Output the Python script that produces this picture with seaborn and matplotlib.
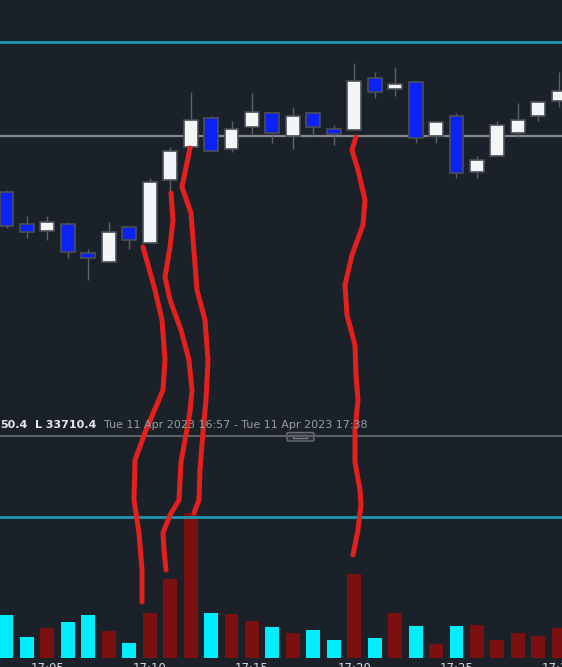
import matplotlib
matplotlib.use("Agg")
import matplotlib.pyplot as plt
import seaborn as sns
import pandas as pd
from matplotlib.patches import FancyBboxPatch, Rectangle

# one-minute candles, 17:03 .. 17:30
times = ["17:03", "17:04", "17:05", "17:06", "17:07", "17:08", "17:09", "17:10",
         "17:11", "17:12", "17:13", "17:14", "17:15", "17:16", "17:17", "17:18",
         "17:19", "17:20", "17:21", "17:22", "17:23", "17:24", "17:25", "17:26",
         "17:27", "17:28", "17:29", "17:30"]
opens = [33774, 33758, 33754.5, 33758, 33743.5, 33739, 33756.5, 33748.5,
         33780, 33796.5, 33811, 33795.5, 33806.5, 33813.5, 33802, 33813.5,
         33805.5, 33805, 33831, 33825.5, 33829, 33802, 33812, 33784,
         33792, 33803.5, 33812, 33819.5]
highs = [33775, 33762, 33762, 33759, 33745.5, 33759, 33756.5, 33781,
         33796.5, 33824, 33812, 33809.5, 33823.5, 33813.5, 33816.5, 33813.5,
         33807.5, 33838.5, 33834, 33836.5, 33829, 33809, 33813.5, 33792,
         33809.5, 33818.5, 33819, 33834]
lows = [33756, 33751, 33750, 33741, 33730, 33739, 33745.5, 33748.5,
        33774.5, 33796.5, 33794.5, 33794, 33803, 33798.5, 33795.5, 33802,
        33797.5, 33805, 33821, 33822, 33798.5, 33798.5, 33781, 33781,
        33792, 33801.5, 33809.5, 33816.5]
closes = [33757, 33754, 33759, 33744, 33741, 33754, 33750, 33779,
          33794.5, 33810, 33794.5, 33805.5, 33814, 33803.5, 33812, 33806.5,
          33803, 33829.5, 33824, 33828, 33801, 33809, 33783.5, 33790,
          33807.5, 33810, 33819, 33824.5]
volumes = [425, 202, 298, 352, 422, 268, 145, 448, 785, 1448, 445, 435, 365, 302,
           245, 275, 172, 838, 198, 442, 312, 138, 312, 330, 172, 245, 215, 295]
tick_labels = ["17:05", "17:10", "17:15", "17:20", "17:25", "17:30"]

price_level_top = 33849
price_level_mid = 33802
volume_level = 1405

header_high = "50.4"
header_low = "L 33710.4"
header_range = "Tue 11 Apr 2023 16:57 - Tue 11 Apr 2023 17:38"

# hand-drawn red marks on the screenshot (pixel coords)
scribbles = [
    [(143, 247), (155, 290), (162, 320), (165, 360), (163, 390), (158, 402),
     (146, 430), (135, 460), (134, 500), (139, 533), (142, 570), (142, 602)],
    [(171, 193), (173, 220), (170, 247), (165, 277), (170, 300), (181, 330),
     (189, 360), (192, 390), (190, 412), (185, 440), (181, 462), (179, 500),
     (170, 515), (163, 533), (164, 550), (166, 570)],
    [(190, 148), (182, 187), (191, 213), (197, 290), (205, 320), (208, 360),
     (206, 400), (203, 432), (200, 470), (199, 500), (194, 513)],
    [(356, 137), (352, 150), (358, 170), (365, 200), (363, 225), (352, 255),
     (345, 285), (347, 315), (355, 345), (356, 375), (358, 400), (355, 430),
     (355, 462), (360, 490), (361, 505), (358, 530), (353, 555)],
]

BG = "#1b2129"
BLUE = "#0a22f5"
WHITE = "#f4f5f7"
VOL_UP = "#7a1010"
VOL_DOWN = "#00eefc"
CYAN_LINE = "#1f97b0"

sns.set_theme(style="dark", rc={"axes.facecolor": BG, "figure.facecolor": BG,
                                "axes.grid": False})
plt.rcParams["font.family"] = ["DejaVu Sans"]

fig = plt.figure(figsize=(5.62, 6.67), dpi=100)
ax = fig.add_axes([0, 232 / 667, 1, 435 / 667])
axv = fig.add_axes([0, 9.5 / 667, 1, 222.5 / 667])

n = len(times)
xs = list(range(n))
up = [c >= o for o, c in zip(opens, closes)]

# price panel
ax.vlines(xs, lows, highs, color="#5c6169", lw=1, zorder=2)
bottoms = [min(o, c) for o, c in zip(opens, closes)]
heights = [max(abs(c - o), 2.0) for o, c in zip(opens, closes)]
ax.bar(xs, heights, bottom=bottoms, width=0.68,
       color=[WHITE if u else BLUE for u in up],
       edgecolor="#4a4f57", lw=1.2, zorder=3)
ax.axhline(price_level_top, color=CYAN_LINE, lw=2, zorder=1)
ax.axhline(price_level_mid, color="#85888d", lw=1.6, zorder=1)
ax.set_xlim(-0.32, 27.16)
ax.set_ylim(33652.5, 33870)
ax.axis("off")

# volume panel
df = pd.DataFrame({"t": times, "volume": volumes,
                   "side": ["up" if u else "down" for u in up]})
sns.barplot(data=df, x="t", y="volume", hue="side", order=times,
            palette={"up": VOL_UP, "down": VOL_DOWN}, dodge=False, width=0.68,
            linewidth=0, saturation=1, legend=False, ax=axv, zorder=2)
axv.axhline(volume_level, color=CYAN_LINE, lw=2, zorder=3)
axv.set_xlim(-0.32, 27.16)
axv.set_ylim(0, 2225)
axv.set_xticks([times.index(t) for t in tick_labels], tick_labels)
axv.set_yticks([])
axv.tick_params(axis="x", length=0, pad=3.5, labelsize=8.5, colors="#d6d8db")
axv.set_xlabel("")
axv.set_ylabel("")
for s in axv.spines.values():
    s.set_visible(False)

# overlay: separator, handle, header text, red marks
ov = fig.add_axes([0, 0, 1, 1])
ov.set_xlim(0, 562)
ov.set_ylim(667, 0)
ov.axis("off")
ov.plot([0, 562], [435.5, 435.5], color="#5b5f66", lw=1.5)
ov.add_patch(FancyBboxPatch((287, 432.5), 27, 8.5, boxstyle="round,pad=0,rounding_size=1.5",
                            facecolor="#2b3038", edgecolor="#6b6f76", lw=1))
ov.add_patch(Rectangle((293, 435), 14, 2.5, facecolor="none", edgecolor="#7b7f86", lw=0.9))

ov.text(0, 425, header_high, color="#e8eaec", fontsize=8, fontweight="bold", va="center")
ov.text(35, 425, header_low, color="#e8eaec", fontsize=8, fontweight="bold", va="center")
ov.text(104, 425, header_range, color="#989ca2", fontsize=8, va="center")

for path in scribbles:
    px = [p[0] for p in path]
    py = [p[1] for p in path]
    ov.plot(px, py, color="#e3201b", lw=3.6, solid_capstyle="round",
            solid_joinstyle="round")

fig.savefig("out.png", dpi=100, facecolor=BG)
